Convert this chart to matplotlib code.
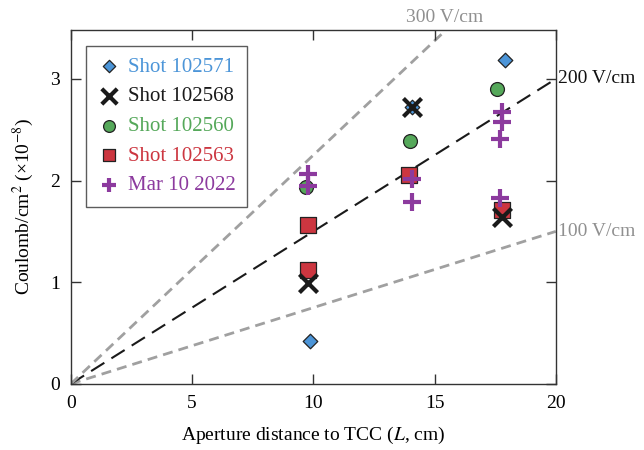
import matplotlib
matplotlib.use('Agg')
import matplotlib.pyplot as plt
import numpy as np

plt.rcParams['font.family'] = ['Liberation Serif', 'DejaVu Serif']
plt.rcParams['mathtext.fontset'] = 'stix'

# data
blue_x = [9.85, 14.05, 17.9]
blue_y = [0.42, 2.72, 3.19]
black_x = [9.77, 14.05, 17.77]
black_y = [0.99, 2.72, 1.64]
green_x = [9.7, 13.98, 17.57]
green_y = [1.94, 2.39, 2.90]
red_x = [9.8, 9.8, 13.94, 17.8]
red_y = [1.56, 1.12, 2.05, 1.71]
purple_x = [9.77, 9.77, 14.05, 14.05, 17.77, 17.77, 17.72, 17.72]
purple_y = [2.06, 1.95, 2.02, 1.79, 2.67, 2.58, 2.41, 1.83]

# field lines: charge per cm per 100 V/cm
fields = [100, 200, 300]
slope_per_100 = 0.075

fig = plt.figure(figsize=(6.44, 4.5), dpi=100)
ax = fig.add_axes([0.110, 0.147, 0.753, 0.786])

xs = np.array([0, 20])
for f in fields:
    if f == 200:
        ax.plot(xs, xs * slope_per_100 * f / 100, color='#1a1a1a', ls=(0, (7.5, 4)), lw=1.5, zorder=1)
    else:
        ax.plot(xs, xs * slope_per_100 * f / 100, color='#a0a0a0', ls=(0, (3.6, 2.2)), lw=2.0, zorder=1)

ax.scatter(blue_x, blue_y, marker='D', s=55, color='#4c95d8', edgecolor='#222222', lw=0.9, zorder=3, label='Shot 102571')
ax.scatter(black_x, black_y, marker='x', s=170, color='#1a1a1a', lw=3.0, zorder=4, label='Shot 102568')
ax.scatter(green_x, green_y, marker='o', s=100, color='#55a85a', edgecolor='#222222', lw=0.9, zorder=3, label='Shot 102560')
ax.scatter(red_x, red_y, marker='s', s=120, color='#cc3640', edgecolor='#222222', lw=0.9, zorder=3, label='Shot 102563')
ax.scatter(purple_x, purple_y, marker='+', s=150, color='#8c3a9e', lw=3.0, zorder=5, label='Mar 10 2022')

ax.set_xlim(0, 20)
ax.set_ylim(0, 3.48)
ax.set_xticks([0, 5, 10, 15, 20])
ax.set_yticks([0, 1, 2, 3])
ax.tick_params(direction='in', top=True, right=True, length=7, width=1, labelsize=14,
               color='#333333', pad=8)
for s in ax.spines.values():
    s.set_color('#333333')
    s.set_linewidth(1.0)

ax.set_xlabel('Aperture distance to TCC ($L$, cm)', fontsize=14, labelpad=9)
ax.set_ylabel('Coulomb/cm$^2$ (×10$^{-8}$)', fontsize=14, labelpad=10)

ax.text(20.1, 3.0, '200 V/cm', fontsize=14, color='#111111', va='center', ha='left', clip_on=False)
ax.text(20.1, 1.5, '100 V/cm', fontsize=14, color='#909090', va='center', ha='left', clip_on=False)
ax.text(15.4, 3.52, '300 V/cm', fontsize=14, color='#909090', va='bottom', ha='center', clip_on=False)

leg = ax.legend(loc='upper left', fontsize=15, frameon=True, fancybox=False, edgecolor='#333333',
                handletextpad=0.35, handlelength=1.1, borderaxespad=0.75, labelspacing=0.48,
                borderpad=0.55, markerscale=0.85)
leg.get_frame().set_linewidth(1.0)
cols = ['#4c95d8', '#1a1a1a', '#55a85a', '#cc3640', '#8c3a9e']
for t, c in zip(leg.get_texts(), cols):
    t.set_color(c)

fig.savefig('out.png', dpi=100)
